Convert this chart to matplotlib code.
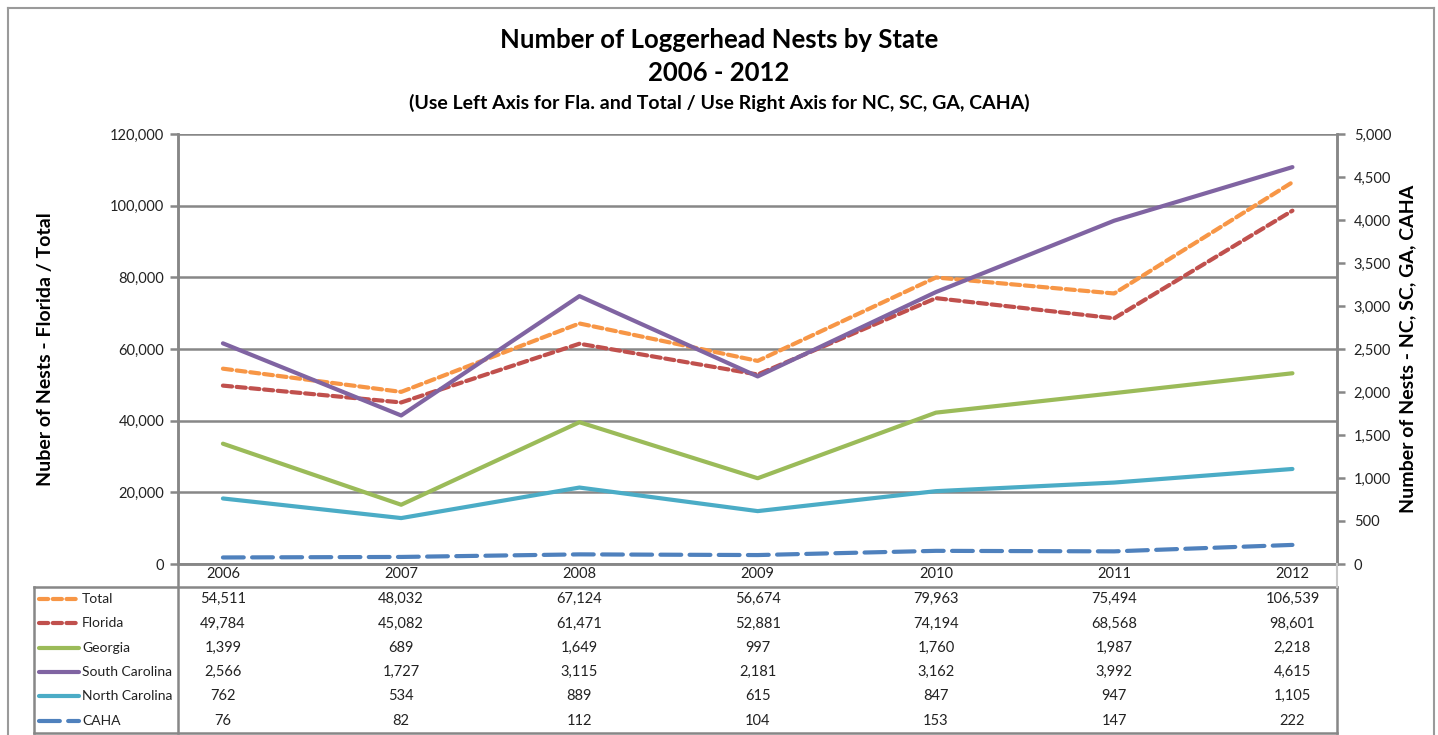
import matplotlib
matplotlib.use("Agg")
import matplotlib.pyplot as plt
from matplotlib.lines import Line2D
from matplotlib.transforms import blended_transform_factory
import numpy as np

years = ["2006", "2007", "2008", "2009", "2010", "2011", "2012"]
total = [54511, 48032, 67124, 56674, 79963, 75494, 106539]
florida = [49784, 45082, 61471, 52881, 74194, 68568, 98601]
georgia = [1399, 689, 1649, 997, 1760, 1987, 2218]
south_carolina = [2566, 1727, 3115, 2181, 3162, 3992, 4615]
north_carolina = [762, 534, 889, 615, 847, 947, 1105]
caha = [76, 82, 112, 104, 153, 147, 222]

series_names = ["Total", "Florida", "Georgia", "South Carolina", "North Carolina", "CAHA"]
series_vals = [total, florida, georgia, south_carolina, north_carolina, caha]
colors = ["#F79646", "#C0504D", "#9BBB59", "#8064A2", "#4BACC6", "#4F81BD"]
dashes = [(2.2, 1.1), (2.2, 1.1), None, None, None, (5, 2)]
use_right = [False, False, True, True, True, True]

plt.rcParams['font.family'] = ['Lato', 'DejaVu Sans']
W, H = 1438, 735
fig = plt.figure(figsize=(W / 100, H / 100), dpi=100)

def fx(px):
    return px / W

def fy(py):
    return 1 - py / H

GRAY = "#878787"
TXT = "#222222"
ax_l, ax_r, ax_t, ax_b = 178, 1337, 134, 564
ax = fig.add_axes([fx(ax_l), fy(ax_b), fx(ax_r) - fx(ax_l), fy(ax_t) - fy(ax_b)])
ax2 = ax.twinx()

x = np.arange(len(years))
for name, vals, c, d, r in zip(series_names, series_vals, colors, dashes, use_right):
    target = ax2 if r else ax
    ln, = target.plot(x, vals, color=c, lw=3, solid_capstyle='round', dash_capstyle='round')
    if d:
        ln.set_dashes(d)

ax.set_xlim(-0.252, 6.25)
ax.set_ylim(0, 120000)
ax2.set_ylim(0, 5000)
ax.set_yticks(np.arange(0, 120001, 20000))
ax2.set_yticks(np.arange(0, 5001, 500))
ax.set_yticklabels([f"{v:,}" for v in range(0, 120001, 20000)], fontsize=10.5, color=TXT)
ax2.set_yticklabels([f"{v:,}" for v in range(0, 5001, 500)], fontsize=10.5, color=TXT)
ax.grid(axis='y', color=GRAY, lw=1.8)
ax.set_axisbelow(True)
for a in (ax, ax2):
    for s in a.spines.values():
        s.set_color(GRAY)
        s.set_linewidth(1.8)
    a.spines['top'].set_visible(False)
ax.tick_params(axis='y', length=6, width=1.8, color=GRAY, pad=4)
ax2.tick_params(axis='y', length=6, width=1.8, color=GRAY, pad=6)
ax.set_xticks(x)
ax.set_xticklabels(years, fontsize=10.5, color=TXT)
ax.tick_params(axis='x', length=0, pad=2)

ax.set_ylabel("Nuber of Nests - Florida / Total", fontsize=14, fontweight='bold', labelpad=40)
ax2.set_ylabel("Number of Nests - NC, SC, GA, CAHA", fontsize=14, fontweight='bold', labelpad=6)

# titles
fig.text(0.5, fy(40), "Number of Loggerhead Nests by State", ha='center', va='center',
         fontsize=18.5, fontweight='bold')
fig.text(0.5, fy(73), "2006 - 2012", ha='center', va='center', fontsize=18.5, fontweight='bold')
fig.text(0.5, fy(103), "(Use Left Axis for Fla. and Total / Use Right Axis for NC, SC, GA, CAHA)",
         ha='center', va='center', fontsize=14, fontweight='bold')

# outer frame
frame_kw = dict(color="#9a9a9a", lw=1.5, transform=fig.transFigure)
fig.add_artist(Line2D([fx(8), fx(1434)], [fy(8), fy(8)], **frame_kw))
fig.add_artist(Line2D([fx(8), fx(8)], [fy(8), fy(735)], **frame_kw))
fig.add_artist(Line2D([fx(1434), fx(1434)], [fy(8), fy(735)], **frame_kw))

# data table
tb_kw = dict(color=GRAY, lw=1.8, transform=fig.transFigure)
row_top, row_h = 587, 24.3
table_bottom = row_top + row_h * 6
fig.add_artist(Line2D([fx(34), fx(ax_r)], [fy(row_top), fy(row_top)], **tb_kw))
fig.add_artist(Line2D([fx(34), fx(ax_r)], [fy(table_bottom), fy(table_bottom)], **tb_kw))
fig.add_artist(Line2D([fx(34), fx(34)], [fy(row_top), fy(table_bottom)], **tb_kw))
fig.add_artist(Line2D([fx(ax_l), fx(ax_l)], [fy(ax_b), fy(table_bottom)], **tb_kw))
fig.add_artist(Line2D([fx(ax_r), fx(ax_r)], [fy(row_top), fy(table_bottom)], **tb_kw))
fig.add_artist(Line2D([fx(ax_r), fx(ax_r)], [fy(ax_b), fy(row_top)], color="#c8c8c8", lw=1.5,
                      transform=fig.transFigure))

trans = blended_transform_factory(ax.transData, fig.transFigure)
for i, (name, vals, c, d) in enumerate(zip(series_names, series_vals, colors, dashes)):
    yc = fy(row_top + row_h * (i + 0.5))
    ln = Line2D([fx(39), fx(79)], [yc, yc], color=c, lw=3, transform=fig.transFigure,
                solid_capstyle='round', dash_capstyle='round')
    if d:
        ln.set_dashes(d)
    fig.add_artist(ln)
    fig.text(fx(82), yc, name, ha='left', va='center', fontsize=10, color=TXT)
    for j, v in enumerate(vals):
        ax.text(j, yc, f"{v:,}", transform=trans, ha='center', va='center', fontsize=10.5,
                color=TXT, clip_on=False)

fig.savefig("out.png", dpi=100, facecolor="white")
